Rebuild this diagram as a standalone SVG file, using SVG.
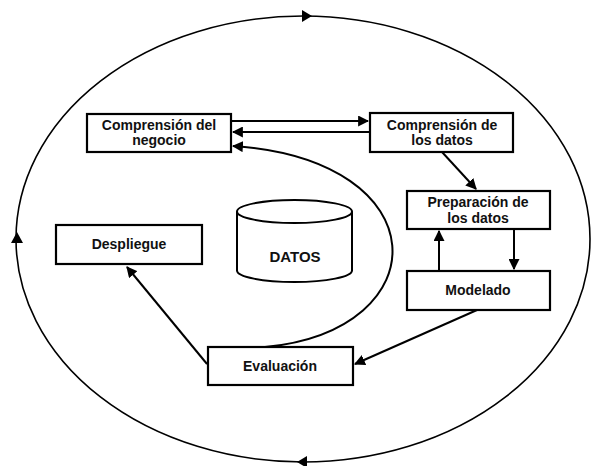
<svg xmlns="http://www.w3.org/2000/svg" width="591" height="466" viewBox="0 0 591 466">
<defs>
<marker id="ah" viewBox="0 0 10 10" refX="9" refY="5" markerWidth="5.5" markerHeight="5.5" orient="auto-start-reverse" markerUnits="strokeWidth">
<path d="M0,0 L10,5 L0,10 z" fill="#000"/>
</marker>
<style>
.box{fill:#fff;stroke:#000;stroke-width:2.2}
.t{font-family:"Liberation Sans",Arial,sans-serif;font-weight:bold;font-size:14px;fill:#111;text-anchor:middle}
.c{fill:none;stroke:#000;stroke-width:2}
.tri{fill:#000}
</style>
</defs>
<rect width="591" height="466" fill="#fff"/>
<g id="cycle">
<ellipse cx="303" cy="239" rx="287" ry="223" fill="none" stroke="#000" stroke-width="1.6"/>
<path class="tri" d="M302,10 L312,16 L302,22 z"/>
<path class="tri" d="M11,243 L17,232 L23,243 z"/>
<path class="tri" d="M307,456 L297,462 L307,468 z"/>
</g>
<g id="connectors">
<line class="c" x1="231" y1="121" x2="368" y2="121" marker-end="url(#ah)"/>
<line class="c" x1="370" y1="132" x2="233" y2="132" marker-end="url(#ah)"/>
<path class="c" d="M265,347 C440,330 440,160 233,146" marker-end="url(#ah)"/>
<line class="c" x1="442" y1="152" x2="476" y2="189" marker-end="url(#ah)"/>
<line class="c" x1="514" y1="229" x2="514" y2="269" marker-end="url(#ah)"/>
<line class="c" x1="439" y1="271" x2="439" y2="231" marker-end="url(#ah)"/>
<line class="c" x1="477" y1="310" x2="355" y2="364" marker-end="url(#ah)"/>
<line class="c" x1="207" y1="364" x2="127" y2="267" marker-end="url(#ah)"/>
</g>
<g id="negocio">
<rect class="box" x="87" y="114" width="144" height="38"/>
<text class="t" x="159" y="130">Comprensión del</text>
<text class="t" x="159" y="145">negocio</text>
</g>
<g id="datos">
<rect class="box" x="370" y="113" width="143" height="39"/>
<text class="t" x="442" y="130">Comprensión de</text>
<text class="t" x="442" y="145">los datos</text>
</g>
<g id="preparacion">
<rect class="box" x="407" y="191" width="143" height="38"/>
<text class="t" x="478" y="207">Preparación de</text>
<text class="t" x="478" y="223">los datos</text>
</g>
<g id="modelado">
<rect class="box" x="407" y="271" width="143" height="39"/>
<text class="t" x="478" y="295">Modelado</text>
</g>
<g id="despliegue">
<rect class="box" x="56" y="225" width="146" height="39"/>
<text class="t" x="129" y="249">Despliegue</text>
</g>
<g id="evaluacion">
<rect class="box" x="208" y="347" width="145" height="38"/>
<text class="t" x="280" y="371">Evaluación</text>
</g>
<g id="datos-db">
<path d="M237,211.5 L237,270.5 A57.5,11.5 0 0 0 352,270.5 L352,211.5" fill="#fff" stroke="#000" stroke-width="2"/>
<ellipse cx="294.5" cy="211.5" rx="57.5" ry="11.5" fill="#fff" stroke="#000" stroke-width="2"/>
<text class="t" x="295" y="262" style="font-size:15px">DATOS</text>
</g>
</svg>
